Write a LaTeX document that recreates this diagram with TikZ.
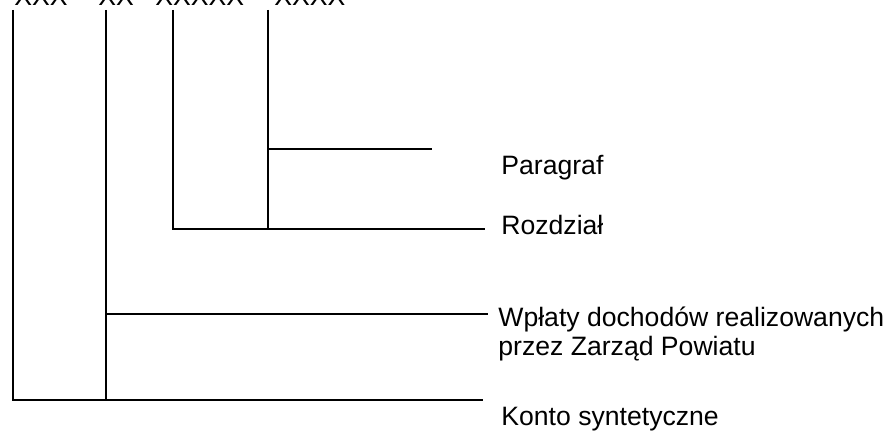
\documentclass[tikz,border=0pt]{standalone}
\usepackage{fontspec}
\setmainfont{Liberation Sans}

\begin{document}
\begin{tikzpicture}[x = 0.5pt, y = -0.5pt, line width = 1.4pt]
	\tikzset{txt/.style = {anchor = base west, inner sep = 0pt, font = \fontsize{13.3}{15}\selectfont}}
	\useasboundingbox (0,0) rectangle (888,432);

	% numer konta
	\node[txt](N1) at (13,6) {XXX};
	\node[txt](N2) at (97,6) {XX};
	\node[txt](N3) at (154,6) {XXXXX};
	\node[txt](N4) at (273,6) {XXXX};

	% opisy
	\node[txt](P) at (500,175) {Paragraf};
	\node[txt](R) at (500,235) {Rozdział};
	\node[txt](W1) at (497,327) {Wpłaty dochodów realizowanych};
	\node[txt](W2) at (497,356) {przez Zarząd Powiatu};
	\node[txt](K) at (500,425) {Konto syntetyczne};

	\coordinate (A1) at (13,10);
	\coordinate (A2) at (106,10);
	\coordinate (A3) at (173,10);
	\coordinate (A4) at (268,10);
	\coordinate (P end) at (432,149);
	\coordinate (R end) at (485,229);
	\coordinate (W end) at (488,314);
	\coordinate (K end) at (483,400);

	\draw (A1) |- (K end);
	\draw (A2) -- (A2 |- K end);
	\draw (A2 |- W end) -- (W end);
	\draw (A3) |- (R end);
	\draw (A4) -- (A4 |- R end);
	\draw (A4 |- P end) -- (P end);
\end{tikzpicture}
\end{document}
